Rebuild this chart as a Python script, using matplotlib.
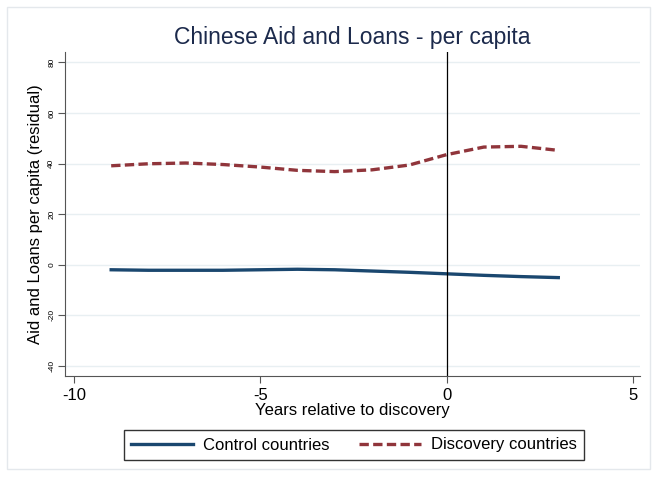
import matplotlib.pyplot as plt
from matplotlib.patches import Rectangle

plt.rcParams["font.family"] = ["Liberation Sans", "DejaVu Sans"]
plt.rcParams["axes.unicode_minus"] = False

years = [-9, -8, -7, -6, -5, -4, -3, -2, -1, 0, 1, 2, 3]
control = [-2.0, -2.2, -2.2, -2.2, -2.0, -1.8, -2.0, -2.5, -3.0, -3.6, -4.2, -4.7, -5.1]
discovery = [39.1, 39.9, 40.2, 39.6, 38.6, 37.3, 36.8, 37.5, 39.4, 43.5, 46.5, 46.8, 45.2]

fig = plt.figure(figsize=(6.53, 4.79), dpi=100)
fig.patches.append(Rectangle((7 / 653, 0.02), 643 / 653, 0.965, transform=fig.transFigure,
                             fill=False, edgecolor="#e4e8ec", linewidth=1))
ax = fig.add_axes([0.0995, 0.215, 0.881, 0.676])

ax.plot(years, control, color="#1a476f", lw=2.4, label="Control countries")
ax.plot(years, discovery, color="#90353b", lw=2.4, dashes=(2.8, 1.3), label="Discovery countries")
ax.axvline(0, color="black", lw=0.9)

ax.set_xlim(-10.24, 5.2)
ax.set_ylim(-44, 84)
ax.set_xticks([-10, -5, 0, 5])
ax.set_yticks([-40, -20, 0, 20, 40, 60, 80])
ax.set_yticklabels(["-40", "-20", "0", "20", "40", "60", "80"], rotation=90, va="center", fontsize=6)
ax.tick_params(axis="x", labelsize=12, length=5, color="#555555")
ax.tick_params(axis="y", length=5, color="#555555", pad=2)
ax.grid(axis="y", color="#e8eff2", lw=1)
ax.set_axisbelow(True)
for s in ["top", "right"]:
    ax.spines[s].set_visible(False)
for s in ["left", "bottom"]:
    ax.spines[s].set_color("#555555")

ax.set_xlabel("Years relative to discovery", fontsize=12, labelpad=0)
ax.set_ylabel("Aid and Loans per capita (residual)", fontsize=12, labelpad=4)
ax.set_title("Chinese Aid and Loans - per capita", fontsize=16.5, color="#1c2a4c", pad=6)

leg = fig.legend(loc="center", bbox_to_anchor=(354 / 653, 1 - 445 / 479), ncol=2, fontsize=12,
                 frameon=True, fancybox=False, edgecolor="black", handlelength=3.7,
                 handletextpad=0.6, columnspacing=1.8, borderpad=0.45)
leg.get_frame().set_linewidth(1)

fig.savefig("out.png", dpi=100)
